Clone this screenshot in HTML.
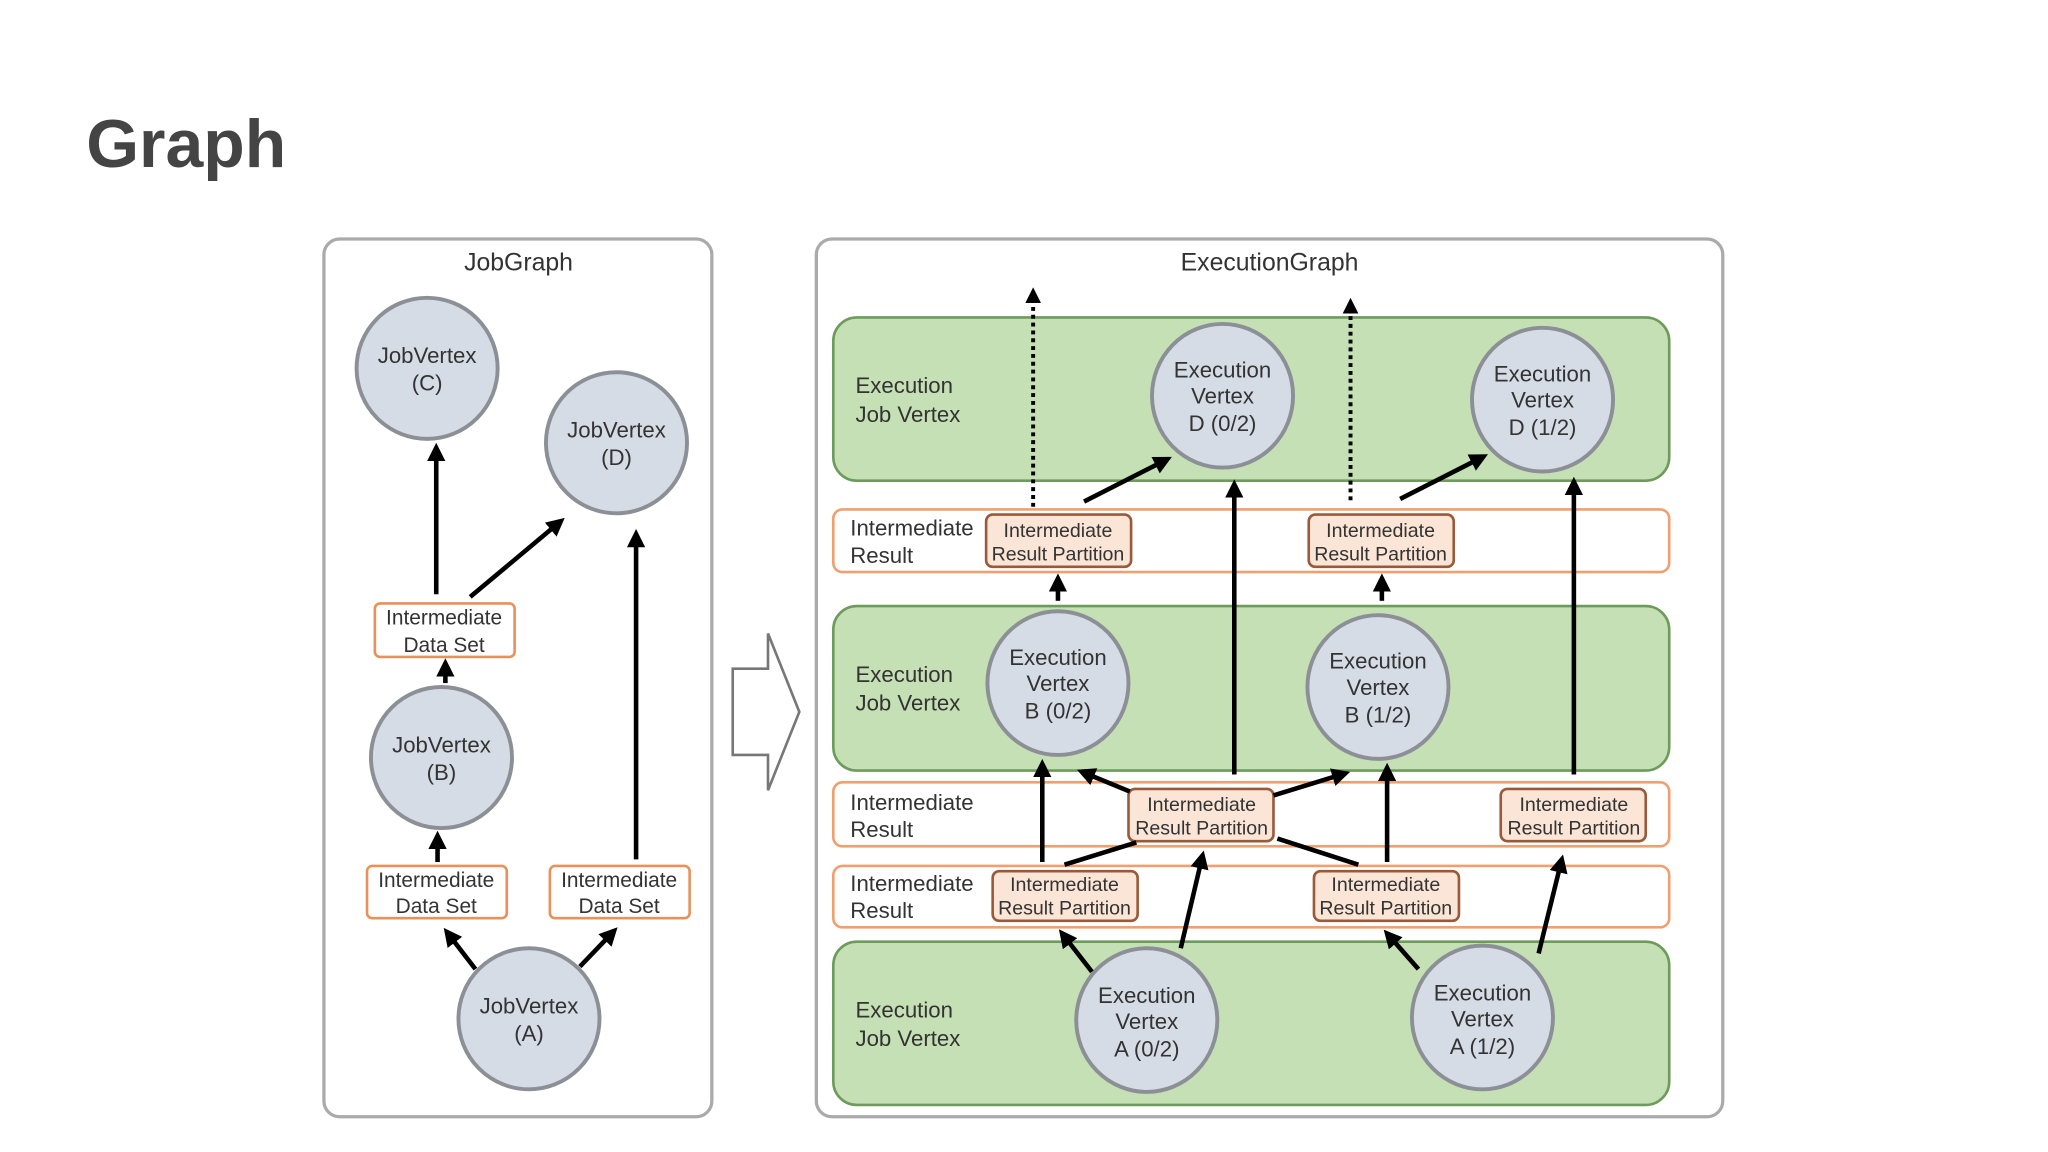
<!DOCTYPE html>
<html><head><meta charset="utf-8"><style>
html,body{margin:0;padding:0;background:#fff;}
svg{display:block;}
text{font-family:"Liberation Sans",Arial,sans-serif;fill:#333;}
</style></head><body>
<svg width="2048" height="1152" viewBox="0 0 1568 882" preserveAspectRatio="none" xmlns="http://www.w3.org/2000/svg">
<defs>
<marker id="ah" markerWidth="4" markerHeight="4" refX="2" refY="2" orient="auto" markerUnits="strokeWidth">
<path d="M0,0 L4,2 L0,4 z" fill="#000"/></marker>
<marker id="ahs" markerWidth="4" markerHeight="4" refX="2" refY="2" orient="auto" markerUnits="strokeWidth">
<path d="M0,0 L4,2 L0,4 z" fill="#000"/></marker>
</defs>
<text x="66" y="128" font-size="52" font-weight="bold" style="fill:#444">Graph</text>

<!-- JobGraph -->
<rect x="248" y="183" width="297" height="672" rx="12" fill="#fff" stroke="#aaa" stroke-width="2.5"/>
<text x="397" y="207" font-size="19" text-anchor="middle">JobGraph</text>
<g fill="#d6dce5" stroke="#8c9096" stroke-width="3">
<circle cx="327" cy="282" r="54"/><circle cx="472" cy="339" r="54"/>
<circle cx="338" cy="580" r="54"/><circle cx="405" cy="780" r="54"/>
</g>
<g font-size="17" text-anchor="middle">
<text x="327" y="278">JobVertex</text><text x="327" y="299">(C)</text>
<text x="472" y="335">JobVertex</text><text x="472" y="356">(D)</text>
<text x="338" y="576">JobVertex</text><text x="338" y="597">(B)</text>
<text x="405" y="776">JobVertex</text><text x="405" y="797">(A)</text>
</g>
<g fill="#fff" stroke="#e8915a" stroke-width="2">
<rect x="287" y="462" width="107" height="41" rx="4"/>
<rect x="281" y="663" width="107" height="40" rx="4"/>
<rect x="421" y="663" width="107" height="40" rx="4"/>
</g>
<g font-size="16" text-anchor="middle">
<text x="340" y="478">Intermediate</text><text x="340" y="499">Data Set</text>
<text x="334" y="679">Intermediate</text><text x="334" y="699">Data Set</text>
<text x="474" y="679">Intermediate</text><text x="474" y="699">Data Set</text>
</g>
<g stroke="#000" stroke-width="3.5" marker-end="url(#ah)">
<line x1="334" y1="455" x2="334" y2="346"/>
<line x1="360" y1="457" x2="427" y2="401"/>
<line x1="341" y1="523" x2="341" y2="511"/>
<line x1="335" y1="660" x2="335" y2="643"/>
<line x1="364" y1="742" x2="344" y2="716"/>
<line x1="444" y1="740" x2="468" y2="715"/>
<line x1="487" y1="658" x2="487" y2="412"/>
</g>

<!-- big arrow -->
<polygon points="561,512 588,512 588,485 612,545 588,605 588,578 561,578" fill="#fff" stroke="#777" stroke-width="2"/>

<!-- ExecutionGraph -->
<rect x="625" y="183" width="694" height="672" rx="12" fill="#fff" stroke="#aaa" stroke-width="2.5"/>
<text x="972" y="207" font-size="19" text-anchor="middle">ExecutionGraph</text>
<g fill="#c5e0b4" stroke="#6d9b5c" stroke-width="2">
<rect x="638" y="243" width="640" height="125" rx="18"/>
<rect x="638" y="464" width="640" height="126" rx="18"/>
<rect x="638" y="721" width="640" height="125" rx="18"/>
</g>
<g fill="#fff" stroke="#f0a070" stroke-width="2">
<rect x="638" y="390" width="640" height="48" rx="7"/>
<rect x="638" y="599" width="640" height="49" rx="7"/>
<rect x="638" y="663" width="640" height="47" rx="7"/>
</g>
<g font-size="17">
<text x="655" y="301">Execution</text><text x="655" y="323">Job Vertex</text>
<text x="655" y="522">Execution</text><text x="655" y="544">Job Vertex</text>
<text x="655" y="779">Execution</text><text x="655" y="801">Job Vertex</text>
<text x="651" y="410">Intermediate</text><text x="651" y="431">Result</text>
<text x="651" y="620">Intermediate</text><text x="651" y="641">Result</text>
<text x="651" y="682">Intermediate</text><text x="651" y="703">Result</text>
</g>
<g fill="#d6dce5" stroke="#8c9096" stroke-width="3">
<ellipse cx="936" cy="303" rx="54" ry="55"/><ellipse cx="1181" cy="306" rx="54" ry="55"/>
<ellipse cx="810" cy="523" rx="54" ry="55"/><ellipse cx="1055" cy="526" rx="54" ry="55"/>
<ellipse cx="878" cy="781" rx="54" ry="55"/><ellipse cx="1135" cy="779" rx="54" ry="55"/>
</g>
<g font-size="17" text-anchor="middle">
<text x="936" y="289">Execution</text><text x="936" y="309">Vertex</text><text x="936" y="330">D (0/2)</text>
<text x="1181" y="292">Execution</text><text x="1181" y="312">Vertex</text><text x="1181" y="333">D (1/2)</text>
<text x="810" y="509">Execution</text><text x="810" y="529">Vertex</text><text x="810" y="550">B (0/2)</text>
<text x="1055" y="512">Execution</text><text x="1055" y="532">Vertex</text><text x="1055" y="553">B (1/2)</text>
<text x="878" y="768">Execution</text><text x="878" y="788">Vertex</text><text x="878" y="809">A (0/2)</text>
<text x="1135" y="766">Execution</text><text x="1135" y="786">Vertex</text><text x="1135" y="807">A (1/2)</text>
</g>
<g fill="#fbe5d6" stroke="#9a5a3a" stroke-width="2">
<rect x="755" y="394" width="111" height="40" rx="5"/>
<rect x="1002" y="394" width="111" height="40" rx="5"/>
<rect x="864" y="604" width="111" height="40" rx="5"/>
<rect x="1149" y="604" width="111" height="40" rx="5"/>
<rect x="760" y="667" width="111" height="38" rx="5"/>
<rect x="1006" y="667" width="111" height="38" rx="5"/>
</g>
<g font-size="15" text-anchor="middle">
<text x="810" y="411">Intermediate</text><text x="810" y="429">Result Partition</text>
<text x="1057" y="411">Intermediate</text><text x="1057" y="429">Result Partition</text>
<text x="920" y="621">Intermediate</text><text x="920" y="639">Result Partition</text>
<text x="1205" y="621">Intermediate</text><text x="1205" y="639">Result Partition</text>
<text x="815" y="682">Intermediate</text><text x="815" y="700">Result Partition</text>
<text x="1061" y="682">Intermediate</text><text x="1061" y="700">Result Partition</text>
</g>
<g stroke="#000" stroke-width="3" stroke-dasharray="3,3" marker-end="url(#ahs)" fill="none">
<line x1="791" y1="388" x2="791" y2="226"/>
<line x1="1034" y1="383" x2="1034" y2="234"/>
</g>
<g stroke="#000" stroke-width="3.5" marker-end="url(#ah)">
<line x1="830" y1="384" x2="891" y2="353"/>
<line x1="1072" y1="382" x2="1133" y2="351"/>
<line x1="945" y1="593" x2="945" y2="374"/>
<line x1="1205" y1="593" x2="1205" y2="372"/>
<line x1="810" y1="460" x2="810" y2="446"/>
<line x1="1058" y1="460" x2="1058" y2="446"/>
<line x1="798" y1="660" x2="798" y2="588"/>
<line x1="865" y1="606" x2="831" y2="592"/>
<line x1="975" y1="609" x2="1027" y2="593"/>
<line x1="1062" y1="660" x2="1062" y2="591"/>
<line x1="836" y1="744" x2="815" y2="717"/>
<line x1="904" y1="726" x2="920" y2="658"/>
<line x1="1086" y1="742" x2="1064" y2="717"/>
<line x1="1178" y1="730" x2="1195" y2="661"/>
</g>
<g stroke="#000" stroke-width="3.5">
<line x1="815" y1="662" x2="870" y2="645"/>
<line x1="1040" y1="662" x2="978" y2="642"/>
</g>
</svg>
</body></html>
